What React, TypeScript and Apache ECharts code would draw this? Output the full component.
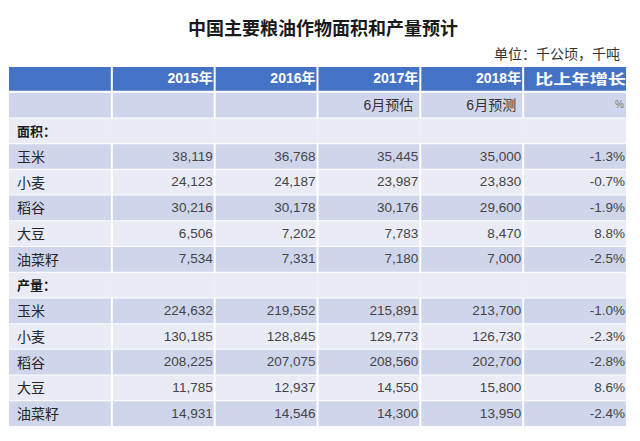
import React, { useEffect, useRef } from "react";
import * as echarts from "echarts";

const chartTitle = "中国主要粮油作物面积和产量预计";
const unitNote = "单位：千公顷，千吨";
const columnHeaders = ["", "2015年", "2016年", "2017年", "2018年", "比上年增长"];
const subHeaders = ["", "", "", "6月预估", "6月预测", "%"];
const sectionLabels = ["面积：", "产量："];
const crops = ["玉米", "小麦", "稻谷", "大豆", "油菜籽"];

const area2015 = [38119, 24123, 30216, 6506, 7534];
const area2016 = [36768, 24187, 30178, 7202, 7331];
const area2017 = [35445, 23987, 30176, 7783, 7180];
const area2018 = [35000, 23830, 29600, 8470, 7000];
const areaChange = [-1.3, -0.7, -1.9, 8.8, -2.5];

const output2015 = [224632, 130185, 208225, 11785, 14931];
const output2016 = [219552, 128845, 207075, 12937, 14546];
const output2017 = [215891, 129773, 208560, 14550, 14300];
const output2018 = [213700, 126730, 202700, 15800, 13950];
const outputChange = [-1.0, -2.3, -2.8, 8.6, -2.4];

type Kind = "header" | "sub" | "section" | "body";
type Cell = { col: number; row: number; text: string; kind: Kind };

const fmtNum = (v: number) => v.toLocaleString("en-US");
const fmtPct = (v: number) => v.toFixed(1) + "%";

function buildCells(): { cells: Cell[]; rowCount: number } {
  const cells: Cell[] = [];
  let row = 0;
  columnHeaders.forEach((t, c) => cells.push({ col: c, row, text: t, kind: "header" }));
  row++;
  subHeaders.forEach((t, c) => cells.push({ col: c, row, text: t, kind: "sub" }));
  row++;
  const groups = [
    [area2015, area2016, area2017, area2018, areaChange],
    [output2015, output2016, output2017, output2018, outputChange],
  ];
  groups.forEach((g, gi) => {
    for (let c = 0; c < 6; c++) {
      cells.push({ col: c, row, text: c === 0 ? sectionLabels[gi] : "", kind: "section" });
    }
    row++;
    crops.forEach((crop, i) => {
      cells.push({ col: 0, row, text: crop, kind: "body" });
      for (let k = 0; k < 4; k++) {
        cells.push({ col: k + 1, row, text: fmtNum(g[k][i]), kind: "body" });
      }
      cells.push({ col: 5, row, text: fmtPct(g[4][i]), kind: "body" });
      row++;
    });
  });
  return { cells, rowCount: row };
}

const BLUE = "#4472C4";
const DARK_BAND = "#CFD5EA";
const LIGHT_BAND = "#E9EBF5";
const LATIN = "'Liberation Sans', 'Noto Sans CJK SC', sans-serif";
const CJK = "'Noto Sans CJK SC', sans-serif";

export default function App() {
  const ref = useRef<HTMLDivElement>(null);
  useEffect(() => {
    if (!ref.current) return;
    const chart = echarts.init(ref.current, undefined, { renderer: "svg" });
    const { cells, rowCount } = buildCells();
    const rowIdx = Array.from({ length: rowCount }, (_, i) => String(i));
    const colIdx = columnHeaders.map((_, i) => String(i));

    const renderItem = (params: any, api: any) => {
      const cell = cells[params.dataIndex];
      const center = api.coord([cell.col, cell.row]);
      const size = api.size([1, 1]);
      const w = size[0];
      const h = size[1];
      const x0 = center[0] - w / 2;
      const y0 = center[1] - h / 2;
      let fill: string;
      if (cell.kind === "header") fill = BLUE;
      else fill = cell.row % 2 === 1 ? DARK_BAND : LIGHT_BAND;

      let rx = x0;
      let rw = w;
      if (cell.kind !== "section") {
        const leftGap = cell.col === 0 ? 0 : 1;
        const rightGap = cell.col === 5 ? 0 : 1;
        rx = x0 + leftGap;
        rw = w - leftGap - rightGap;
      }
      const rh = cell.kind === "header" ? h - 2 : h - 1;
      const children: any[] = [
        { type: "rect", shape: { x: rx, y: y0, width: rw, height: rh }, style: { fill } },
      ];
      if (cell.text) {
        const cy = y0 + rh / 2 - 0.5;
        let style: any;
        let tx: number;
        let scaleX = 1;
        if (cell.col === 0) {
          tx = x0 + 8;
          const isSection = cell.kind === "section";
          style = {
            text: cell.text,
            fill: isSection ? "#1a1a1a" : "#262626",
            fontSize: isSection ? 13 : 14,
            fontWeight: isSection ? "bold" : "normal",
            fontFamily: CJK,
            align: "left",
            verticalAlign: "middle",
          };
        } else if (cell.kind === "header") {
          tx = x0 + w - (cell.col === 5 ? 0 : 2);
          if (cell.col === 5) scaleX = 1.3;
          style = {
            text: cell.text,
            fill: "#ffffff",
            fontSize: 14,
            fontWeight: "bold",
            fontFamily: LATIN,
            align: "right",
            verticalAlign: "middle",
          };
        } else if (cell.kind === "sub") {
          const isPct = cell.col === 5;
          tx = x0 + w - (isPct ? 2 : 7);
          style = {
            text: cell.text,
            fill: isPct ? "#777777" : "#333333",
            fontSize: isPct ? 10 : 14,
            fontFamily: LATIN,
            align: "right",
            verticalAlign: "middle",
          };
        } else {
          tx = x0 + w - (cell.col === 5 ? 1 : 2);
          style = {
            text: cell.text,
            fill: "#454545",
            fontSize: 13.5,
            fontFamily: LATIN,
            align: "right",
            verticalAlign: "middle",
          };
        }
        children.push({ type: "text", x: tx, y: cy, scaleX, style });
      }
      return { type: "group", children };
    };

    chart.setOption({
      animation: false,
      backgroundColor: "#ffffff",
      title: [
        {
          text: chartTitle,
          left: 188,
          top: 18,
          padding: 0,
          textStyle: { fontSize: 18, fontWeight: "bold", color: "#1a1a1a", fontFamily: CJK },
        },
        {
          text: unitNote,
          right: 20,
          top: 46,
          padding: 0,
          textStyle: { fontSize: 14, fontWeight: "normal", color: "#333333", fontFamily: CJK },
        },
      ],
      grid: { left: 9, right: 14, top: 67, bottom: 14 },
      xAxis: { type: "category", data: colIdx, show: false },
      yAxis: { type: "category", data: rowIdx, inverse: true, show: false },
      series: [
        {
          type: "custom",
          renderItem,
          data: cells.map((c) => [c.col, c.row]),
          silent: true,
        },
      ],
    });
    return () => chart.dispose();
  }, []);
  return (
    <div
      ref={ref}
      style={{ position: "absolute", left: 0, top: 0, width: 640, height: 441 }}
    />
  );
}
